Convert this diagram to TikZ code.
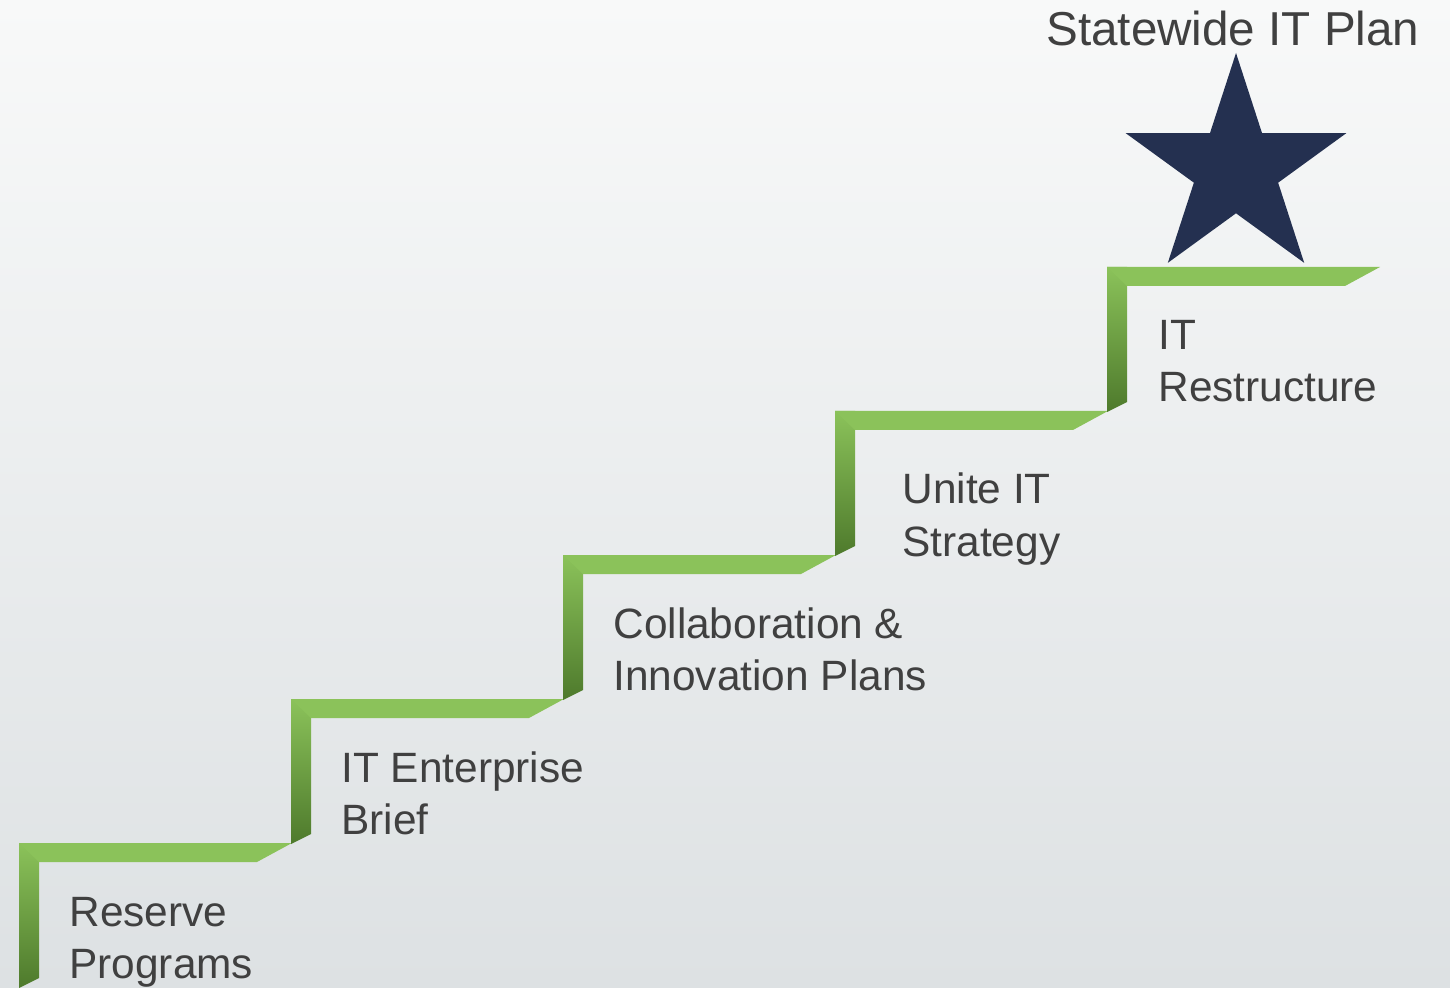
\documentclass[tikz,border=0pt]{standalone}
\usepackage{fontspec}
\setmainfont{Liberation Sans}
\usepackage{xcolor}

\definecolor{bgtop}{HTML}{F8F9F9}
\definecolor{bgbottom}{HTML}{DDE1E3}
\definecolor{steplight}{HTML}{8BC25A}
\definecolor{stepdark}{HTML}{4E7A2C}
\definecolor{starblue}{HTML}{243050}
\definecolor{labelgray}{HTML}{404040}

\begin{document}
\begin{tikzpicture}[x=0.5pt,y=-0.5pt,
        steplabel/.style={anchor=base west, inner sep=0pt, align=left, text=labelgray, font=\fontsize{21.2}{26}\selectfont},
        goallabel/.style={anchor=base west, inner sep=0pt, text=labelgray, font=\fontsize{23.8}{28}\selectfont}]
        \useasboundingbox (0,0) rectangle (1450,988);
        \shade [top color=bgtop, bottom color=bgbottom] (0,0) rectangle (1450,988);
        % stairs
        \foreach \i in {0,...,4}{
            \pgfmathsetmacro{\sx}{19+272*\i}
            \pgfmathsetmacro{\sy}{843-144*\i}
            \shade [top color=steplight, bottom color=stepdark] (\sx,\sy) -- ++(20,0) -- ++(0,135) -- ++(-20,10) -- cycle;
            \fill [steplight] (\sx,\sy) -- ++(273,0) -- ++(-35,19) -- ++(-218,0) -- cycle;
        }
        % star on the top step
        \coordinate (starcentre) at (1236,169);
        \fill [starblue] (1236,53) \foreach \k in {0,...,4}{
            -- ({1236+44.3*sin(72*\k+36)},{169-44.3*cos(72*\k+36)})
            -- ({1236+116*sin(72*\k+72)},{169-116*cos(72*\k+72)})} -- cycle;
        % labels (base = last line)
        \node [steplabel] (reserve) at (69,978) {Reserve\\Programs};
        \node [steplabel] (enterprise) at (341,834) {IT Enterprise\\Brief};
        \node [steplabel] (collab) at (613,690) {Collaboration \&\\Innovation Plans};
        \node [steplabel] (unite) at (902,556) {Unite IT\\Strategy};
        \node [steplabel] (restructure) at (1158,402) {IT\\Restructure};
        \node [goallabel] (statewide) at (1046,46) {Statewide IT Plan};
\end{tikzpicture}
\end{document}
